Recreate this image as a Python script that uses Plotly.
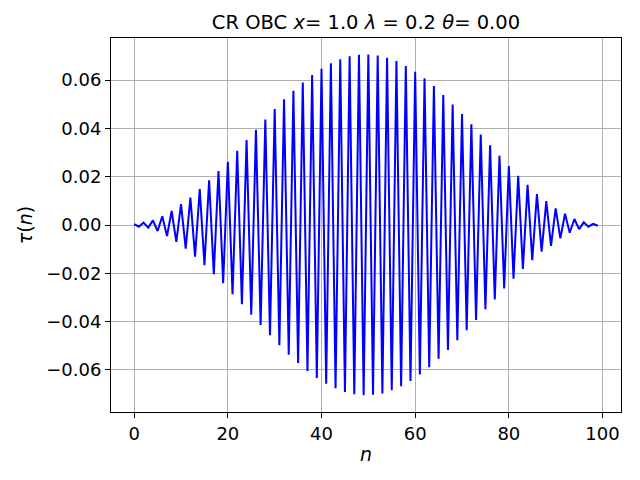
import plotly.graph_objs as go

# site index and tau(n)
n_vals = list(range(100))
tau_vals = [
    0.0004, -0.0007, 0.0010, -0.0011, 0.0019, -0.0025, 0.0036, -0.0046, 0.0058, -0.0070,
    0.0086, -0.0098, 0.0113, -0.0131, 0.0149, -0.0166, 0.0185, -0.0204, 0.0223, -0.0241,
    0.0262, -0.0286, 0.0307, -0.0328, 0.0352, -0.0371, 0.0394, -0.0414, 0.0437, -0.0456,
    0.0480, -0.0498, 0.0520, -0.0537, 0.0556, -0.0571, 0.0590, -0.0604, 0.0621, -0.0633,
    0.0647, -0.0657, 0.0669, -0.0676, 0.0686, -0.0691, 0.0698, -0.0701, 0.0705, -0.0705,
    0.0706, -0.0703, 0.0702, -0.0697, 0.0692, -0.0684, 0.0679, -0.0667, 0.0658, -0.0646,
    0.0634, -0.0619, 0.0607, -0.0589, 0.0575, -0.0554, 0.0538, -0.0517, 0.0499, -0.0477,
    0.0459, -0.0436, 0.0417, -0.0393, 0.0374, -0.0349, 0.0330, -0.0308, 0.0287, -0.0263,
    0.0244, -0.0222, 0.0204, -0.0182, 0.0166, -0.0146, 0.0128, -0.0110, 0.0099, -0.0086,
    0.0069, -0.0055, 0.0047, -0.0032, 0.0025, -0.0017, 0.0011, -0.0007, 0.0005, -0.0003,
]

x_ticks = [0, 20, 40, 60, 80, 100]
y_ticks = [-0.06, -0.04, -0.02, 0.00, 0.02, 0.04, 0.06]

font = "DejaVu Sans"

fig = go.Figure()
fig.add_trace(go.Scatter(x=n_vals, y=tau_vals, mode="lines",
                         line=dict(color="#0000ff", width=2), showlegend=False))

axis_common = dict(showline=True, linecolor="black", linewidth=1, mirror=True,
                   ticks="outside", ticklen=5, tickwidth=1, tickcolor="black",
                   showgrid=True, gridcolor="#b0b0b0", gridwidth=1, automargin=False,
                   zeroline=False, tickfont=dict(family=font, size=18, color="black"))

fig.update_layout(
    width=640, height=480,
    margin=dict(l=111, r=19, t=38, b=68),
    paper_bgcolor="white", plot_bgcolor="white",
    title=dict(text="CR OBC <i>x</i>= 1.0 <i>λ</i> = 0.2 <i>θ</i>= 0.00",
               x=0.5, xref="paper", xanchor="center",
               y=1 - 22 / 480, yanchor="middle", automargin=False,
               font=dict(family=font, size=19.5, color="black")),
    xaxis=dict(axis_common, range=[-4.95, 103.95], tickvals=x_ticks,
               title=dict(text="<i>n</i>", standoff=5,
                          font=dict(family=font, size=19, color="black"))),
    yaxis=dict(axis_common, range=[-0.0774, 0.0774], tickvals=y_ticks, tickformat=".2f",
               title=dict(text="<i>τ</i>(<i>n</i>)", standoff=8,
                          font=dict(family=font, size=19, color="black"))),
)

# drop the page's default body margin so the figure sits at the window origin
fig.write_html("out.html", config={"displayModeBar": False},
               post_script="document.body.style.margin = '0';")
